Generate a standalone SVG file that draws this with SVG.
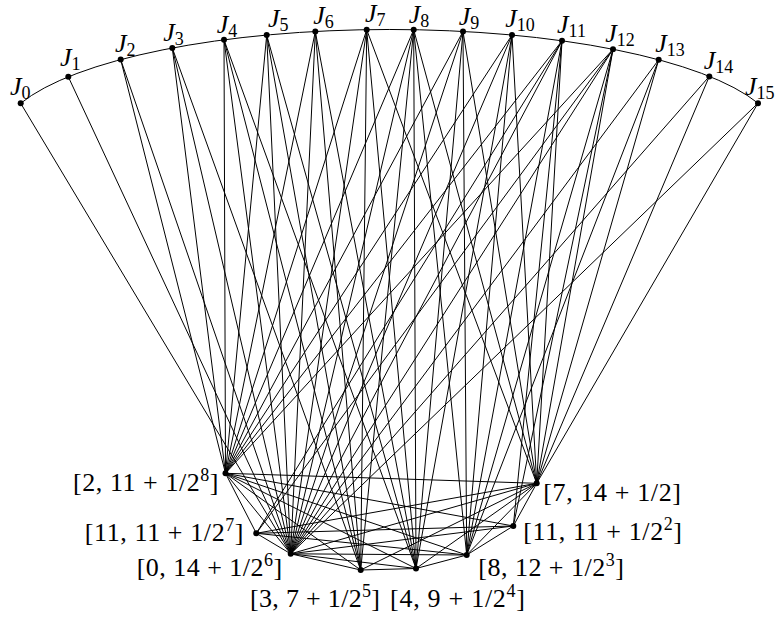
<svg xmlns="http://www.w3.org/2000/svg" width="777" height="619" viewBox="0 0 777 619">
<style>
.e{stroke:#000;stroke-width:1;fill:none}
.n{fill:#000}
.j{font-family:"Liberation Serif","DejaVu Serif",serif;font-size:26px;font-style:italic;fill:#000}
.s{font-style:normal;font-size:18px}
.l{font-family:"Liberation Serif","DejaVu Serif",serif;font-size:26px;fill:#000}
.p{font-size:18px}
</style>
<rect width="777" height="619" fill="#fff"/>
<g id="connectors" class="e">
<path d="M20.7 103.3 A390 109.5 0 0 1 758 103.2"/>
<!-- B1 [2,11] -->
<line x1="225.5" y1="473.3" x2="120.7" y2="59.6"/>
<line x1="225.5" y1="473.3" x2="172.3" y2="48"/>
<line x1="225.5" y1="473.3" x2="224" y2="39.8"/>
<line x1="225.5" y1="473.3" x2="266.7" y2="35.1"/>
<line x1="225.5" y1="473.3" x2="315.3" y2="31.5"/>
<line x1="225.5" y1="473.3" x2="366.7" y2="29.7"/>
<line x1="225.5" y1="473.3" x2="413.7" y2="29.7"/>
<line x1="225.5" y1="473.3" x2="463" y2="31.5"/>
<line x1="225.5" y1="473.3" x2="512" y2="35"/>
<line x1="225.5" y1="473.3" x2="562" y2="40.8"/>
<line x1="225.5" y1="473.3" x2="613" y2="49.3"/>
<!-- B2 [7,14.5] -->
<line x1="536.7" y1="483.3" x2="366.7" y2="29.7"/>
<line x1="536.7" y1="483.3" x2="413.7" y2="29.7"/>
<line x1="536.7" y1="483.3" x2="463" y2="31.5"/>
<line x1="536.7" y1="483.3" x2="512" y2="35"/>
<line x1="536.7" y1="483.3" x2="562" y2="40.8"/>
<line x1="536.7" y1="483.3" x2="613" y2="49.3"/>
<line x1="536.7" y1="483.3" x2="658.7" y2="59.8"/>
<line x1="536.7" y1="483.3" x2="709.3" y2="76.4"/>
<line x1="536.7" y1="483.3" x2="758" y2="103.2"/>
<!-- B3, B4 -->
<line x1="256.3" y1="533.3" x2="562" y2="40.8"/>
<line x1="256.3" y1="533.3" x2="613" y2="49.3"/>
<line x1="513.3" y1="526" x2="562" y2="40.8"/>
<line x1="513.3" y1="526" x2="613" y2="49.3"/>
<!-- B5 [0,14] -->
<line x1="290.7" y1="553.8" x2="20.7" y2="103.3"/>
<line x1="290.7" y1="553.8" x2="68.3" y2="76.8"/>
<line x1="290.7" y1="553.8" x2="120.7" y2="59.6"/>
<line x1="290.7" y1="553.8" x2="172.3" y2="48"/>
<line x1="290.7" y1="553.8" x2="224" y2="39.8"/>
<line x1="290.7" y1="553.8" x2="266.7" y2="35.1"/>
<line x1="290.7" y1="553.8" x2="315.3" y2="31.5"/>
<line x1="290.7" y1="553.8" x2="366.7" y2="29.7"/>
<line x1="290.7" y1="553.8" x2="413.7" y2="29.7"/>
<line x1="290.7" y1="553.8" x2="463" y2="31.5"/>
<line x1="290.7" y1="553.8" x2="512" y2="35"/>
<line x1="290.7" y1="553.8" x2="562" y2="40.8"/>
<line x1="290.7" y1="553.8" x2="613" y2="49.3"/>
<line x1="290.7" y1="553.8" x2="658.7" y2="59.8"/>
<line x1="290.7" y1="553.8" x2="709.3" y2="76.4"/>
<line x1="290.7" y1="553.8" x2="758" y2="103.2"/>
<!-- B6 [8,12] -->
<line x1="466.7" y1="555" x2="413.7" y2="29.7"/>
<line x1="466.7" y1="555" x2="463" y2="31.5"/>
<line x1="466.7" y1="555" x2="512" y2="35"/>
<line x1="466.7" y1="555" x2="562" y2="40.8"/>
<line x1="466.7" y1="555" x2="613" y2="49.3"/>
<line x1="466.7" y1="555" x2="658.7" y2="59.8"/>
<!-- B7 [3,7] -->
<line x1="360.7" y1="570" x2="172.3" y2="48"/>
<line x1="360.7" y1="570" x2="224" y2="39.8"/>
<line x1="360.7" y1="570" x2="266.7" y2="35.1"/>
<line x1="360.7" y1="570" x2="315.3" y2="31.5"/>
<line x1="360.7" y1="570" x2="366.7" y2="29.7"/>
<line x1="360.7" y1="570" x2="413.7" y2="29.7"/>
<!-- B8 [4,9] -->
<line x1="416" y1="568.5" x2="224" y2="39.8"/>
<line x1="416" y1="568.5" x2="266.7" y2="35.1"/>
<line x1="416" y1="568.5" x2="315.3" y2="31.5"/>
<line x1="416" y1="568.5" x2="366.7" y2="29.7"/>
<line x1="416" y1="568.5" x2="413.7" y2="29.7"/>
<line x1="416" y1="568.5" x2="463" y2="31.5"/>
<line x1="416" y1="568.5" x2="512" y2="35"/>
<!-- bottom clique edges -->
<line x1="225.5" y1="473.3" x2="536.7" y2="483.3"/>
<line x1="225.5" y1="473.3" x2="256.3" y2="533.3"/>
<line x1="225.5" y1="473.3" x2="513.3" y2="526"/>
<line x1="225.5" y1="473.3" x2="290.7" y2="553.8"/>
<line x1="225.5" y1="473.3" x2="466.7" y2="555"/>
<line x1="225.5" y1="473.3" x2="360.7" y2="570"/>
<line x1="225.5" y1="473.3" x2="416" y2="568.5"/>
<line x1="536.7" y1="483.3" x2="256.3" y2="533.3"/>
<line x1="536.7" y1="483.3" x2="513.3" y2="526"/>
<line x1="536.7" y1="483.3" x2="290.7" y2="553.8"/>
<line x1="536.7" y1="483.3" x2="466.7" y2="555"/>
<line x1="536.7" y1="483.3" x2="360.7" y2="570"/>
<line x1="536.7" y1="483.3" x2="416" y2="568.5"/>
<line x1="256.3" y1="533.3" x2="513.3" y2="526"/>
<line x1="256.3" y1="533.3" x2="290.7" y2="553.8"/>
<line x1="256.3" y1="533.3" x2="466.7" y2="555"/>
<line x1="513.3" y1="526" x2="290.7" y2="553.8"/>
<line x1="513.3" y1="526" x2="466.7" y2="555"/>
<line x1="290.7" y1="553.8" x2="466.7" y2="555"/>
<line x1="290.7" y1="553.8" x2="360.7" y2="570"/>
<line x1="290.7" y1="553.8" x2="416" y2="568.5"/>
<line x1="466.7" y1="555" x2="416" y2="568.5"/>
<line x1="360.7" y1="570" x2="416" y2="568.5"/>
</g>
<g id="J0"><circle class="n" cx="20.7" cy="103.3" r="3"/><text class="j" x="10" y="95">J<tspan class="s" dy="4">0</tspan></text></g>
<g id="J1"><circle class="n" cx="68.3" cy="76.8" r="3"/><text class="j" x="60" y="66">J<tspan class="s" dy="4">1</tspan></text></g>
<g id="J2"><circle class="n" cx="120.7" cy="59.6" r="3"/><text class="j" x="115" y="52">J<tspan class="s" dy="4">2</tspan></text></g>
<g id="J3"><circle class="n" cx="172.3" cy="48" r="3"/><text class="j" x="163.3" y="40.5">J<tspan class="s" dy="4">3</tspan></text></g>
<g id="J4"><circle class="n" cx="224" cy="39.8" r="3"/><text class="j" x="216.7" y="33">J<tspan class="s" dy="4">4</tspan></text></g>
<g id="J5"><circle class="n" cx="266.7" cy="35.1" r="3"/><text class="j" x="268" y="27">J<tspan class="s" dy="4">5</tspan></text></g>
<g id="J6"><circle class="n" cx="315.3" cy="31.5" r="3"/><text class="j" x="313.3" y="24">J<tspan class="s" dy="4">6</tspan></text></g>
<g id="J7"><circle class="n" cx="366.7" cy="29.7" r="3"/><text class="j" x="365" y="22">J<tspan class="s" dy="4">7</tspan></text></g>
<g id="J8"><circle class="n" cx="413.7" cy="29.7" r="3"/><text class="j" x="408.7" y="23">J<tspan class="s" dy="4">8</tspan></text></g>
<g id="J9"><circle class="n" cx="463" cy="31.5" r="3"/><text class="j" x="458.7" y="25">J<tspan class="s" dy="4">9</tspan></text></g>
<g id="J10"><circle class="n" cx="512" cy="35" r="3"/><text class="j" x="505.3" y="27">J<tspan class="s" dy="4">10</tspan></text></g>
<g id="J11"><circle class="n" cx="562" cy="40.8" r="3"/><text class="j" x="557" y="33">J<tspan class="s" dy="4">11</tspan></text></g>
<g id="J12"><circle class="n" cx="613" cy="49.3" r="3"/><text class="j" x="605.3" y="42">J<tspan class="s" dy="4">12</tspan></text></g>
<g id="J13"><circle class="n" cx="658.7" cy="59.8" r="3"/><text class="j" x="655.3" y="52">J<tspan class="s" dy="4">13</tspan></text></g>
<g id="J14"><circle class="n" cx="709.3" cy="76.4" r="3"/><text class="j" x="703.7" y="68.5">J<tspan class="s" dy="4">14</tspan></text></g>
<g id="J15"><circle class="n" cx="758" cy="103.2" r="3"/><text class="j" x="745" y="95">J<tspan class="s" dy="4">15</tspan></text></g>
<g id="B1"><circle class="n" cx="225.5" cy="473.3" r="3"/><text class="l" x="73" y="491" textLength="145.5" lengthAdjust="spacing">[2, 11 + 1/2<tspan class="p" dy="-10">8</tspan><tspan dy="10">]</tspan></text></g>
<g id="B2"><circle class="n" cx="536.7" cy="483.3" r="3"/><text class="l" x="543.3" y="501" textLength="137.7" lengthAdjust="spacing">[7, 14 + 1/2]</text></g>
<g id="B3"><circle class="n" cx="256.3" cy="533.3" r="3"/><text class="l" x="84.8" y="541" textLength="158.7" lengthAdjust="spacing">[11, 11 + 1/2<tspan class="p" dy="-10">7</tspan><tspan dy="10">]</tspan></text></g>
<g id="B4"><circle class="n" cx="513.3" cy="526" r="3"/><text class="l" x="523.3" y="540" textLength="158.7" lengthAdjust="spacing">[11, 11 + 1/2<tspan class="p" dy="-10">2</tspan><tspan dy="10">]</tspan></text></g>
<g id="B5"><circle class="n" cx="290.7" cy="553.8" r="3"/><text class="l" x="136.7" y="576" textLength="145.5" lengthAdjust="spacing">[0, 14 + 1/2<tspan class="p" dy="-10">6</tspan><tspan dy="10">]</tspan></text></g>
<g id="B6"><circle class="n" cx="466.7" cy="555" r="3"/><text class="l" x="478.3" y="576" textLength="145.5" lengthAdjust="spacing">[8, 12 + 1/2<tspan class="p" dy="-10">3</tspan><tspan dy="10">]</tspan></text></g>
<g id="B7"><circle class="n" cx="360.7" cy="570" r="3"/><text class="l" x="250" y="607" textLength="130" lengthAdjust="spacing">[3, 7 + 1/2<tspan class="p" dy="-10">5</tspan><tspan dy="10">]</tspan></text></g>
<g id="B8"><circle class="n" cx="416" cy="568.5" r="3"/><text class="l" x="390" y="607" textLength="135" lengthAdjust="spacing">[4, 9 + 1/2<tspan class="p" dy="-10">4</tspan><tspan dy="10">]</tspan></text></g>
</svg>
